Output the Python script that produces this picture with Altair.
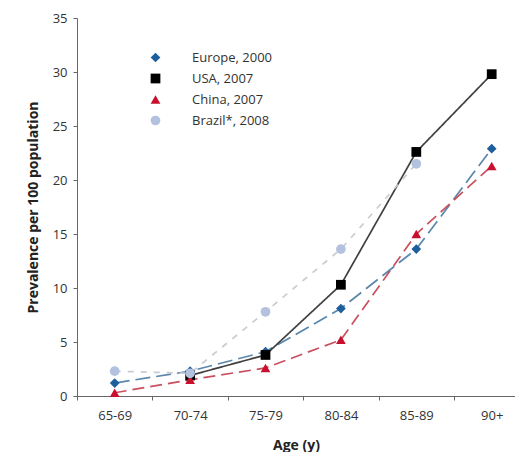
import altair as alt
import pandas as pd

ages = ["65-69", "70-74", "75-79", "80-84", "85-89", "90+"]
series_names = ["Europe, 2000", "USA, 2007", "China, 2007", "Brazil*, 2008"]
europe = [1.2, 2.3, 4.1, 8.1, 13.6, 22.9]
usa = [None, 1.9, 3.8, 10.3, 22.6, 29.8]
china = [0.3, 1.5, 2.6, 5.2, 15.0, 21.3]
brazil = [2.3, 2.1, 7.8, 13.6, 21.5, None]

marker_colors = ["#1d5f9c", "#000000", "#c8102e", "#b3c3df"]
line_colors = ["#5a87ab", "#404040", "#c9505f", "#c8cbd2"]
shapes = ["diamond", "square", "triangle-up", "circle"]
dashes = [[15, 6], [1, 0], [12, 6], [6, 7]]

line_names = [s + " (line)" for s in series_names]
rows = []
for name, lname, vals in zip(series_names, line_names, [europe, usa, china, brazil]):
    for i, (a, v) in enumerate(zip(ages, vals)):
        if v is not None:
            rows.append({"series": name, "line_series": lname, "age": a, "idx": i, "value": v})
df = pd.DataFrame(rows)

FONT = "Open Sans"
W = 438
H = 378
BAND = 75.4
x_domain = [-0.5, -0.5 + W / BAND]
label_expr = "[" + ",".join("'%s'" % a for a in ages) + "][round(datum.value + 0.5)]"

x = alt.X("idx:Q", title="Age (y)",
          scale=alt.Scale(domain=x_domain, nice=False, zero=False),
          axis=alt.Axis(values=[-0.5, 0.5, 1.5, 2.5, 3.5, 4.5], labelExpr=label_expr,
                        labelOffset=BAND / 2, labelPadding=9, titlePadding=16,
                        labelFlush=False, labelOverlap=False, grid=False,
                        tickSize=4, domainColor="#666", tickColor="#666"))
y = alt.Y("value:Q", title="Prevalence per 100 population",
          scale=alt.Scale(domain=[0, 35], nice=False),
          axis=alt.Axis(values=[0, 5, 10, 15, 20, 25, 30, 35], grid=False, tickSize=4,
                        labelPadding=6, titlePadding=12, domainColor="#666", tickColor="#666"))

lines = alt.Chart(df).mark_line(strokeWidth=1.7).encode(
    x=x, y=y,
    stroke=alt.Stroke("line_series:N", scale=alt.Scale(domain=line_names, range=line_colors), legend=None),
    strokeDash=alt.StrokeDash("line_series:N", scale=alt.Scale(domain=line_names, range=dashes), legend=None),
    detail="line_series:N",
    order="idx:Q",
)

leg = dict(title=None, orient="none", legendX=72, legendY=33, symbolSize=95,
           labelFontSize=13, rowPadding=7, labelColor="#333", labelFont=FONT,
           labelOffset=30)

points = alt.Chart(df).mark_point(filled=True, opacity=1, size=95).encode(
    x=x, y=y,
    color=alt.Color("series:N", scale=alt.Scale(domain=series_names, range=marker_colors),
                    legend=alt.Legend(**leg)),
    shape=alt.Shape("series:N", scale=alt.Scale(domain=series_names, range=shapes),
                    legend=alt.Legend(**leg)),
)

chart = alt.layer(lines, points).properties(
    width=W, height=H,
    autosize=alt.AutoSizeParams(type="none"),
    padding={"left": 69, "top": 10, "right": 0, "bottom": 56},
).configure_view(stroke=None).configure_axis(
    labelFont=FONT, titleFont=FONT, labelFontSize=13, titleFontSize=14,
    labelColor="#333", titleColor="#222", titleFontWeight="bold",
)

chart.save("out.html", embed_options={"renderer": "svg", "actions": False})
